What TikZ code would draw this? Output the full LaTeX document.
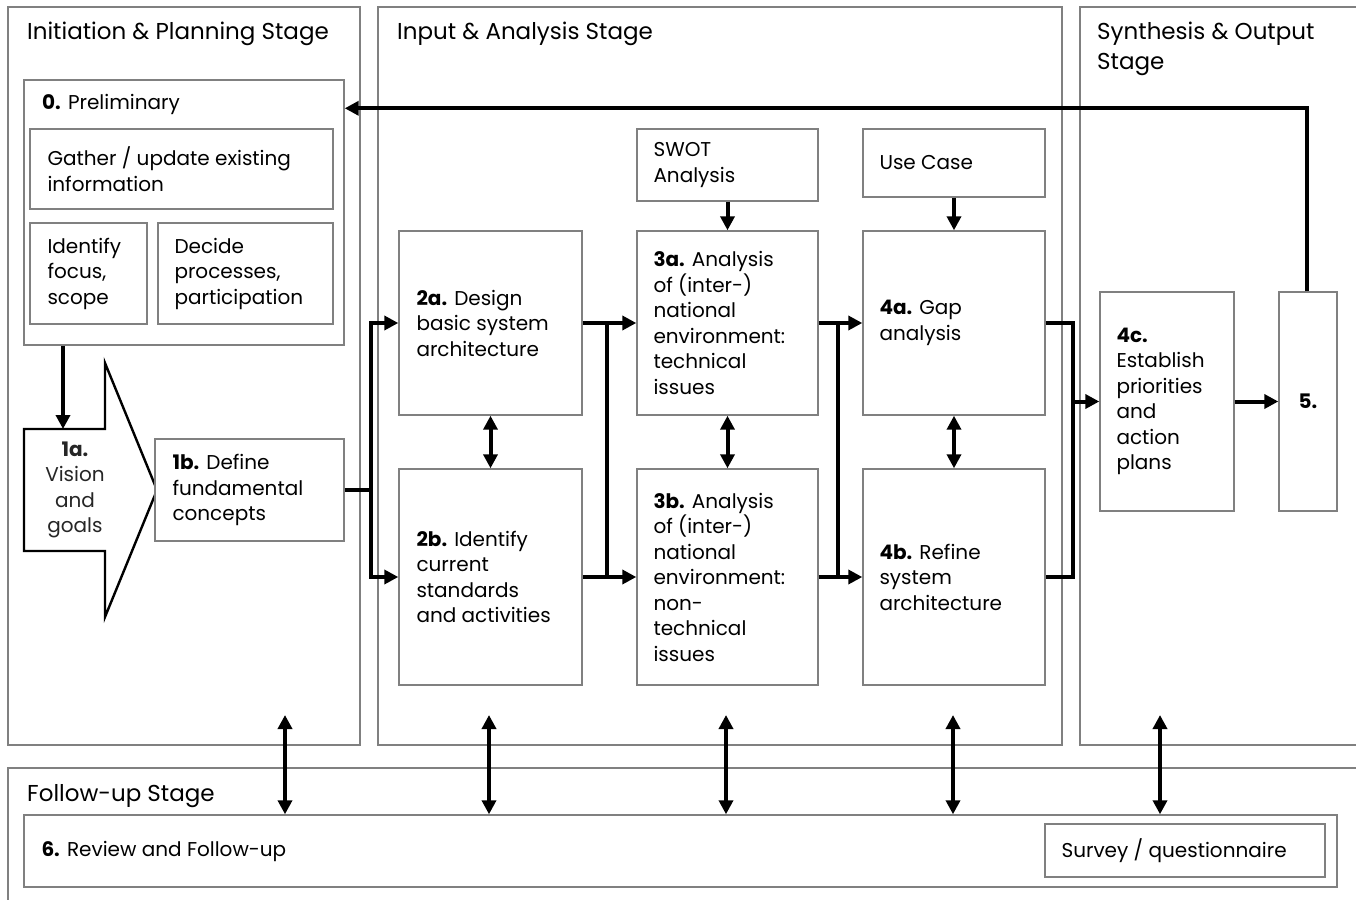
\documentclass[tikz,border=0pt]{standalone}
\usepackage{fontspec}
\setmainfont{Poppins}
\usetikzlibrary{arrows.meta}
\definecolor{framegray}{HTML}{808080}
\definecolor{softblack}{HTML}{262626}
\newcommand\bxfont{\fontsize{20}{25.5}\selectfont}
\newcommand\stfont{\fontsize{23}{30}\selectfont}
\begin{document}
\begin{tikzpicture}[x=1pt,y=-1pt,
  stagebox/.style={draw=framegray, line width=1.4pt, inner sep=0pt},
  box/.style={draw=framegray, line width=1.4pt, fill=white, inner sep=0pt, font=\bxfont},
  txt/.style={inner sep=0pt, align=left, anchor=west, font=\bxfont},
  ttl/.style={inner sep=0pt, align=left, anchor=base west, font=\stfont},
  conn/.style={line width=4pt, black, line join=miter},
  arrow/.style={conn, -{Triangle[length=14pt,width=14pt]}},
  dblarrow/.style={conn, {Triangle[length=14pt,width=14pt]}-{Triangle[length=14pt,width=14pt]}},
]
\useasboundingbox (0,0) rectangle (1356,899);
\fill[white] (0,0) rectangle (1356,899);
\clip (0,0) rectangle (1356,899);

% stage frames
\node[stagebox, minimum width=352, minimum height=738] (stInit) at (184,376) {};
\node[stagebox, minimum width=684, minimum height=738] (stInput) at (720,376) {};
\node[stagebox, minimum width=300, minimum height=738] (stSyn) at (1230,376) {};
\node[stagebox, minimum width=1372, minimum height=152] (stFollow) at (694,844) {};

\node[ttl] (tInit) at (27,40) {Initiation \& Planning Stage};
\node[ttl] (tInput) at (397,40) {Input \& Analysis Stage};
% base anchor of a two-line node sits on the last line
\node[ttl] (tSyn) at (1097,70) {Synthesis \& Output\\Stage};
\node[ttl] (tFollow) at (27,801) {Follow-up Stage};

% preliminary block
\node[box, minimum width=320, minimum height=265] (prelim) at (184,212.5) {};
\node[inner sep=0pt, anchor=base west, font=\bxfont] (tprelim) at (42,109) {\textbf{0.} Preliminary};
\node[box, minimum width=303, minimum height=80] (gather) at (181.5,169) {};
\node[txt] (tgather) at ([xshift=18]gather.west) {Gather / update existing\\information};
\node[box, minimum width=117, minimum height=101] (ident) at (88.5,273.5) {};
\node[txt] (tident) at ([xshift=18]ident.west) {Identify\\focus,\\scope};
\node[box, minimum width=175, minimum height=101] (decide) at (245.5,273.5) {};
\node[txt] (tdecide) at ([xshift=17]decide.west) {Decide\\processes,\\participation};

% vision arrow shape
\coordinate (v1) at (24,429);
\coordinate (v2) at (105,429);
\coordinate (v3) at (105,363);
\coordinate (v4) at (157,490);
\coordinate (v5) at (105,617);
\coordinate (v6) at (105,551);
\coordinate (v7) at (24,551);
\coordinate (vtop) at (63,429);
\draw[line width=2.4pt, fill=white, line join=miter] (v1) -- (v2) -- (v3) -- (v4) -- (v5) -- (v6) -- (v7) -- cycle;
\node[inner sep=0pt, align=center, font=\bxfont, text=softblack] (tvision) at (75,490) {\textbf{1a.}\\Vision\\and\\goals};

\node[box, minimum width=189, minimum height=102] (b1b) at (249.5,490) {};
\node[txt] (t1b) at ([xshift=18]b1b.west) {\textbf{1b.} Define\\fundamental\\concepts};

% input and analysis blocks
\node[box, minimum width=183, minimum height=184] (b2a) at (490.5,323) {};
\node[txt] (t2a) at ([xshift=18]b2a.west) {\textbf{2a.} Design\\basic system\\architecture};
\node[box, minimum width=183, minimum height=216] (b2b) at (490.5,577) {};
\node[txt] (t2b) at ([xshift=18]b2b.west) {\textbf{2b.} Identify\\current\\standards\\and activities};

\node[box, minimum width=181, minimum height=72] (swot) at (727.5,165) {};
\node[txt] (tswot) at ([xshift=17]swot.west) {SWOT\\Analysis};
\node[box, minimum width=181, minimum height=184] (b3a) at (727.5,323) {};
\node[txt] (t3a) at ([xshift=17]b3a.west) {\textbf{3a.} Analysis\\of (inter-)\\national\\environment:\\technical\\issues};
\node[box, minimum width=181, minimum height=216] (b3b) at (727.5,577) {};
\node[txt] (t3b) at ([xshift=17]b3b.west) {\textbf{3b.} Analysis\\of (inter-)\\national\\environment:\\non-\\technical\\issues};

\node[box, minimum width=182, minimum height=68] (usecase) at (954,163) {};
\node[txt] (tusecase) at ([xshift=17]usecase.west) {Use Case};
\node[box, minimum width=182, minimum height=184] (b4a) at (954,323) {};
\node[txt] (t4a) at ([xshift=17]b4a.west) {\textbf{4a.} Gap\\analysis};
\node[box, minimum width=182, minimum height=216] (b4b) at (954,577) {};
\node[txt] (t4b) at ([xshift=17]b4b.west) {\textbf{4b.} Refine\\system\\architecture};

% synthesis blocks
\node[box, minimum width=134, minimum height=219] (b4c) at (1167,401.5) {};
\node[txt] (t4c) at ([xshift=17]b4c.west) {\textbf{4c.}\\Establish\\priorities\\and\\action\\plans};
\node[box, minimum width=58, minimum height=219] (b5) at (1308,401.5) {\textbf{5.}};

% follow-up blocks
\node[box, minimum width=1313, minimum height=72] (b6) at (680.5,851) {};
\node[txt] (t6) at ([xshift=18]b6.west) {\textbf{6.} Review and Follow-up};
\node[box, minimum width=280, minimum height=53] (survey) at (1185,850.5) {};
\node[txt] (tsurvey) at ([xshift=17]survey.west) {Survey / questionnaire};

% bus positions
\coordinate (bus1) at (371,0);
\coordinate (bus2) at (607,0);
\coordinate (bus3) at (838,0);
\coordinate (bus4) at (1073,0);

% main flow
\draw[arrow] (prelim.south -| vtop) -- (vtop);
\draw[conn] (b1b.east) -- (b1b.east -| bus1);
\draw[arrow] (bus1 |- b2b.west) |- (b2a.west);
\draw[arrow] (bus1 |- b2a.west) |- (b2b.west);

\draw[arrow] (b2a.east) -- (b3a.west);
\draw[arrow] (b2b.east) -- (b3b.west);
\draw[conn] (bus2 |- b2a.east) -- (bus2 |- b2b.east);

\draw[arrow] (b3a.east) -- (b4a.west);
\draw[arrow] (b3b.east) -- (b4b.west);
\draw[conn] (bus3 |- b3a.east) -- (bus3 |- b3b.east);

\draw[conn] (b4a.east) -| (bus4 |- b4b.east) -- (b4b.east);
\draw[arrow] (bus4 |- b4c.west) -- (b4c.west);
\draw[arrow] (b4c.east) -- (b5.west);

\draw[arrow] (swot.south) -- (b3a.north);
\draw[arrow] (usecase.south) -- (b4a.north);

\draw[dblarrow] (b2a.south) -- (b2b.north);
\draw[dblarrow] (b3a.south) -- (b3b.north);
\draw[dblarrow] (b4a.south) -- (b4b.north);

% feedback loop
\draw[arrow] ([xshift=-1]b5.north) |- ([yshift=-29]prelim.north east);

% links to the follow-up stage
\coordinate (f1) at (285,715);
\coordinate (f2) at (489,715);
\coordinate (f3) at (726,715);
\coordinate (f4) at (953,715);
\coordinate (f5) at (1160,715);
\foreach \f in {f1,f2,f3,f4,f5}
  \draw[dblarrow] (\f) -- (\f |- b6.north);
\end{tikzpicture}
\end{document}
